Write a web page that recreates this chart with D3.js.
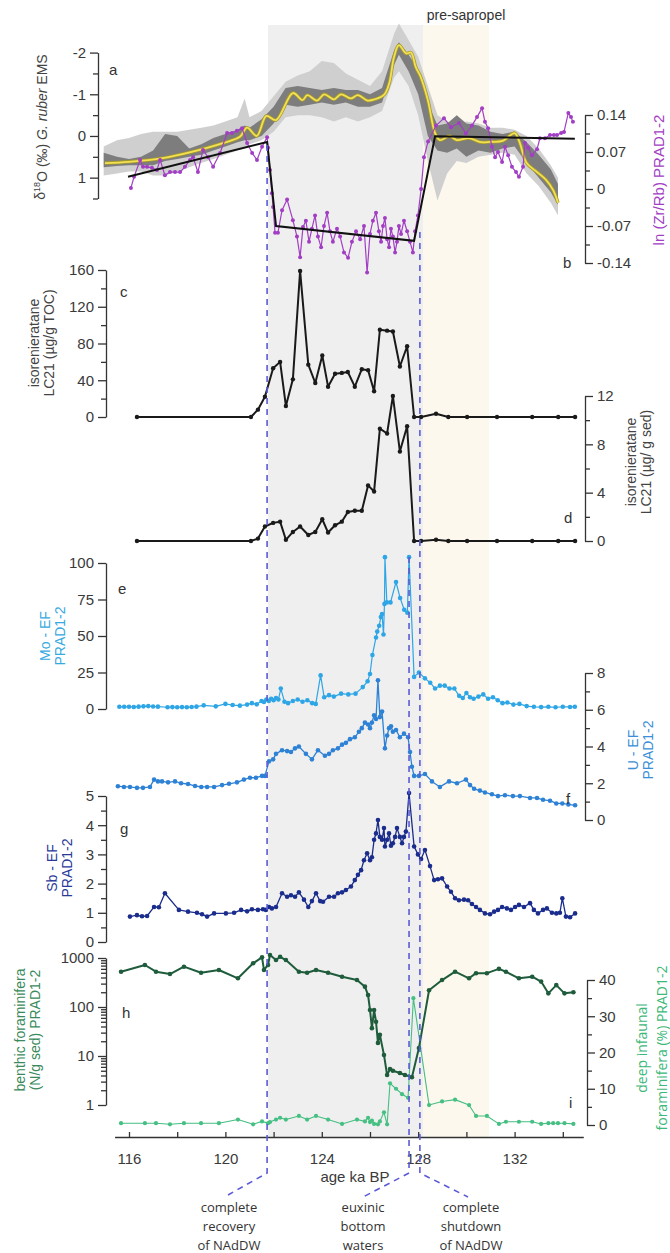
<!DOCTYPE html>
<html>
<head>
<meta charset="utf-8">
<script src="https://cdn.jsdelivr.net/npm/d3@7"></script>
<style>
  body { margin: 0; background: #fff; }
  svg { display: block; }
  .tk text { font-family: "Liberation Sans", Arial, sans-serif; font-size: 15px; fill: #3a3a3a; }
  .tk path, .tk line { stroke: #333; stroke-width: 1.3; }
</style>
</head>
<body>
<svg id="chart" width="670" height="1253"></svg>
<script>
// ---- data ----
var shadeGray = [121.77, 128.2];      // grey interval
var shadePre = [128.2, 130.94];       // pre-sapropel interval
var events = [121.73, 127.62, 128.07];

// a: d18O envelopes and smoothed curve
var envAge = [114.95,115.5,116,116.5,117,117.5,118,118.5,119,119.5,120,120.5,120.8,121,121.5,122,122.5,123,123.5,124,124.5,125,125.5,126,126.5,127,127.2,127.6,128,128.4,128.8,129.2,129.6,130,130.5,131,131.5,132,132.5,133,133.5,133.8];
var lightHi = [0.25,0.1,0.05,-0.05,-0.1,-0.1,-0.1,-0.15,-0.2,-0.25,-0.35,-0.45,-0.9,-0.45,-0.6,-0.95,-1.3,-1.45,-1.55,-1.8,-1.75,-1.5,-1.35,-1.2,-1.55,-2.45,-2.7,-2.3,-1.9,-1.2,-0.5,-0.35,-0.3,-0.35,-0.3,-0.2,-0.2,-0.15,0.0,0.3,0.7,1.0];
var lightLo = [0.95,0.9,0.85,0.85,0.95,0.95,0.85,0.75,0.65,0.55,0.45,0.35,0.3,0.2,0.1,-0.1,-0.45,-0.5,-0.5,-0.45,-0.35,-0.45,-0.35,-0.45,-0.6,-1.4,-1.55,-1.2,-0.5,0.6,1.55,0.9,0.6,0.65,0.5,0.45,0.4,0.45,0.9,1.2,1.6,1.9];
var darkHi = [0.4,0.5,0.55,0.5,0.35,-0.05,0.0,0.3,0.2,0.05,-0.05,-0.15,-0.25,-0.2,-0.4,-0.7,-1.15,-1.2,-1.15,-1.1,-1.15,-1.1,-1.1,-1.0,-1.15,-2.05,-2.25,-1.95,-1.6,-0.8,-0.25,-0.3,-0.5,-0.3,-0.25,-0.1,-0.05,-0.1,0.15,0.45,0.8,1.15];
var darkLo = [0.75,0.72,0.7,0.7,0.7,0.6,0.55,0.5,0.45,0.35,0.25,0.15,0.1,0.1,0.0,-0.3,-0.75,-0.7,-0.75,-0.8,-0.75,-0.8,-0.7,-0.7,-0.8,-1.7,-1.95,-1.55,-1.0,0.0,0.35,0.4,0.3,0.5,0.35,0.4,0.3,0.25,0.65,1.0,1.35,1.65];
var o18Age = [115.0,116.0,117.4,118.6,119.9,120.6,120.9,121.3,121.7,122.1,122.8,123.2,123.4,123.8,124.1,124.5,124.8,125.2,125.5,125.9,126.2,126.6,126.8,127.0,127.2,127.5,127.7,127.9,128.1,128.4,128.7,128.9,129.3,129.6,130.1,130.6,131.0,131.5,132.0,132.2,132.5,132.9,133.3,133.6,133.8];
var o18Val = [0.65,0.62,0.53,0.38,0.17,0.02,-0.2,0.0,-0.48,-0.38,-1.03,-0.86,-0.98,-0.85,-1.0,-0.88,-1.0,-0.9,-0.98,-0.85,-0.88,-1.0,-1.27,-1.9,-2.18,-1.98,-2.0,-1.65,-1.42,-0.86,-0.07,0.1,0.0,0.1,0.05,0.15,0.14,0.12,-0.07,0.14,0.65,0.85,1.05,1.3,1.6];

// b: ln(Zr/Rb) and fitted trend
var zrAge = [116.08,116.21,116.46,116.58,116.75,116.95,117.16,117.29,117.49,117.70,117.91,118.12,118.32,118.53,118.66,118.86,119.07,119.28,119.49,119.78,120.07,120.27,120.48,120.69,120.90,121.11,121.31,121.52,121.73,121.77,121.85,121.93,121.98,122.06,122.18,122.35,122.56,122.80,122.97,123.10,123.22,123.34,123.47,123.59,123.72,123.84,123.97,124.09,124.22,124.34,124.46,124.63,124.76,124.92,125.09,125.25,125.42,125.59,125.75,125.88,126.00,126.12,126.25,126.37,126.46,126.54,126.62,126.71,126.79,126.87,126.95,127.04,127.12,127.20,127.29,127.41,127.54,127.66,127.78,127.87,127.99,128.12,128.24,128.41,128.74,129.07,129.36,129.69,129.98,130.23,130.44,130.65,130.77,130.90,131.06,131.19,131.31,131.48,131.60,131.73,131.89,132.06,132.18,132.35,132.43,132.56,132.72,132.93,133.05,133.26,133.47,133.63,133.76,133.93,134.05,134.23,134.34,134.42];
var zrVal = [0.002,0.023,0.055,0.042,0.042,0.040,0.036,0.055,0.026,0.032,0.032,0.032,0.042,0.055,0.06,0.032,0.074,0.06,0.042,0.068,0.106,0.106,0.11,0.115,0.087,0.068,0.055,0.08,0.098,0.078,0.036,-0.008,-0.034,-0.083,-0.083,-0.04,-0.02,-0.059,-0.09,-0.129,-0.072,-0.06,-0.1,-0.075,-0.05,-0.09,-0.11,-0.07,-0.045,-0.08,-0.1,-0.075,-0.09,-0.12,-0.13,-0.1,-0.08,-0.095,-0.07,-0.158,-0.085,-0.06,-0.045,-0.08,-0.1,-0.07,-0.055,-0.095,-0.11,-0.075,-0.09,-0.12,-0.1,-0.07,-0.085,-0.06,-0.08,-0.1,-0.12,-0.08,-0.05,0.0,0.06,0.09,0.12,0.134,0.117,0.125,0.105,0.12,0.136,0.153,0.127,0.115,0.08,0.06,0.07,0.051,0.08,0.064,0.042,0.032,0.023,0.042,0.087,0.078,0.064,0.075,0.096,0.096,0.102,0.102,0.102,0.106,0.108,0.144,0.136,0.127];
var trendAge = [115.96,121.73,122.1,127.83,128.7,134.5];
var trendVal = [0.023,0.089,-0.07,-0.098,0.1,0.095];

// c, d: isorenieratane
var isoAge = [116.33,121.06,121.35,121.64,121.98,122.27,122.51,122.8,123.1,123.44,123.73,124.02,124.26,124.55,124.83,125.08,125.37,125.66,125.92,126.17,126.41,126.71,126.95,127.24,127.54,127.83,128.12,128.74,129.25,130.03,131.27,132.73,133.81,134.51];
var isoToc = [0,0,8,22,53,60,12,41,159,57,37,67,33,47,48,49,33,52,51,28,95,94,93,55,77,0,0,3.5,0,0,0,0,0,0];
var isoSed = [0,0,0.2,1.2,1.5,1.6,0.1,0.75,1.2,0.5,0.75,1.8,0.7,1.3,1.6,2.4,2.5,2.5,4.6,4.1,9.3,8.9,12.0,7.4,9.5,0,0,0.1,0,0,0,0,0,0];

// e: Mo-EF
var moAge = [115.6,115.8,116.0,116.2,116.4,116.6,116.8,117.0,117.2,117.6,117.8,118.0,118.2,118.4,118.6,118.8,119.1,119.6,120.0,120.3,120.6,120.9,121.1,121.3,121.5,121.6,121.7,121.8,121.9,122.0,122.1,122.2,122.3,122.45,122.6,122.8,123.0,123.2,123.4,123.6,123.75,123.95,124.1,124.3,124.5,124.8,125.1,125.4,125.7,125.9,126.0,126.1,126.25,126.3,126.38,126.45,126.5,126.56,126.6,126.62,126.7,126.85,127.08,127.25,127.42,127.55,127.62,127.83,128.03,128.28,128.5,128.7,128.9,129.1,129.3,129.5,129.7,129.85,130.0,130.15,130.3,130.5,130.7,130.9,131.1,131.3,131.5,131.7,131.95,132.2,132.5,132.8,133.1,133.4,133.7,134.0,134.3,134.5];
var moVal = [1.5,1.5,1.5,1.4,1.6,1.8,2.0,1.7,1.6,1.2,1.3,1.2,1.3,1.2,1.4,1.6,2.5,1.8,3.5,2.7,2.3,3.0,4.0,3.2,5.5,4.8,6.5,5.5,7.0,6.0,7.5,6.5,14,5.0,4.0,5.5,6.5,5.0,6.0,4.0,3.5,23,8,9.5,8.5,10.5,10.0,10.5,15,19,24,37,49,53,57,63,65,51,72,104,73,73,87,76,68,66,104,22,25,21,18,14,16,16,14,14,9,7.5,11,8,7,8.5,10,7,8,6,4,4.5,3,3.5,2,1.5,1.3,1.5,1.2,1.5,1.4,1.5];

// f: U-EF
var uAge = [115.54,115.79,116.04,116.33,116.58,116.87,117.04,117.2,117.37,117.62,117.91,118.16,118.45,118.74,119.0,119.24,119.53,119.86,120.15,120.48,120.77,121.02,121.27,121.52,121.64,121.81,121.98,122.1,122.35,122.56,122.72,122.89,123.05,123.34,123.59,123.84,124.13,124.3,124.46,124.67,124.84,125.0,125.17,125.37,125.54,125.66,125.79,125.92,126.0,126.08,126.17,126.25,126.33,126.41,126.5,126.62,126.71,126.79,126.87,126.95,127.08,127.24,127.41,127.58,127.66,127.74,127.83,128.03,128.28,128.57,128.9,129.28,129.61,129.98,130.15,130.32,130.56,130.77,131.06,131.31,131.6,131.93,132.22,132.64,132.93,133.18,133.47,133.73,133.98,134.23,134.51];
var uVal = [1.84,1.8,1.8,1.75,1.75,1.8,2.2,2.1,2.1,2.05,2.1,2.0,1.96,1.85,1.8,1.8,1.8,1.9,1.97,2.05,2.2,2.3,2.3,2.4,2.4,3.2,3.3,3.6,3.8,3.75,3.7,3.9,4.0,3.6,3.3,3.8,3.5,3.6,3.8,3.9,4.1,4.2,4.4,4.5,4.8,5.0,5.3,5.2,5.0,5.3,5.7,5.5,7.6,5.6,5.9,3.9,4.6,5.0,5.1,4.8,4.9,4.5,4.7,4.5,3.7,2.9,2.4,2.4,2.5,2.1,1.8,2.1,2.0,2.2,1.9,1.7,1.6,1.5,1.4,1.3,1.35,1.3,1.3,1.2,1.2,1.1,1.05,0.9,0.9,0.85,0.8];

// g: Sb-EF
var sbAge = [116.04,116.33,116.54,116.75,117.04,117.24,117.49,118.07,118.45,118.82,119.03,119.24,119.53,120.02,120.36,120.65,120.9,121.1,121.35,121.56,121.68,121.81,121.93,122.1,122.35,122.56,122.72,122.89,123.05,123.26,123.44,123.59,123.76,123.93,124.05,124.3,124.51,124.67,124.84,125.0,125.21,125.37,125.5,125.63,125.75,125.88,126.0,126.08,126.17,126.25,126.33,126.41,126.5,126.58,126.62,126.71,126.79,126.87,126.95,127.04,127.12,127.24,127.33,127.41,127.49,127.62,127.83,127.99,128.12,128.28,128.49,128.66,128.82,128.99,129.2,129.36,129.53,129.69,129.9,130.07,130.23,130.4,130.56,130.77,130.98,131.15,131.31,131.48,131.68,131.85,132.02,132.18,132.39,132.64,132.8,132.97,133.18,133.34,133.55,133.73,133.88,133.98,134.13,134.3,134.51];
var sbVal = [0.87,0.92,0.88,0.89,1.2,1.19,1.67,1.1,1.04,1.0,0.95,0.87,0.98,0.98,1.0,1.1,1.05,1.12,1.1,1.12,1.1,1.2,1.15,1.2,1.67,1.55,1.6,1.55,1.7,1.45,1.2,1.4,1.67,1.4,1.38,1.55,1.55,1.67,1.7,1.78,1.9,2.12,2.3,2.46,2.8,3.04,2.8,2.9,3.5,3.72,4.18,3.6,3.5,3.9,3.27,3.5,3.72,3.3,3.38,3.6,3.9,3.6,3.38,3.6,3.78,5.1,3.27,3.0,2.84,3.15,2.6,2.12,2.15,2.18,1.9,1.72,1.5,1.43,1.45,1.43,1.3,1.2,1.1,0.98,0.95,1.04,1.1,1.2,1.15,1.1,1.2,1.27,1.2,1.33,1.1,0.98,1.1,1.15,1.0,0.98,1.0,1.5,0.87,0.85,0.98];

// h, i: benthic foraminifera
var forAge = [115.67,116.66,117.12,117.7,118.28,118.99,119.73,120.52,121.15,121.52,121.6,121.77,121.85,122.1,122.27,122.51,123.05,123.39,123.76,124.26,124.84,125.46,125.79,125.92,126.0,126.08,126.17,126.25,126.33,126.41,126.58,126.71,126.83,126.95,127.24,127.45,127.74,128.03,128.45,128.99,129.53,130.11,130.4,130.85,131.35,131.64,132.18,132.73,133.1,133.4,133.73,134.07,134.44];
var benthic = [525,720,525,470,665,500,570,385,780,1030,570,720,1150,910,1060,910,525,500,570,500,415,355,260,175,87,37,87,50,18.5,27,10.5,4.1,5.4,5.0,4.5,4.1,3.7,14.5,220,355,525,385,490,490,600,525,385,415,330,190,280,190,200];
var infAge = [115.67,116.66,117.12,117.7,118.28,118.99,119.73,120.52,121.15,121.52,121.77,121.85,122.1,122.27,122.51,123.05,123.39,123.76,124.26,124.84,125.46,125.79,125.92,126.0,126.08,126.17,126.33,126.41,126.58,126.71,126.83,127.08,127.33,127.58,127.8,128.45,128.99,129.53,130.11,130.4,130.85,131.35,131.64,132.18,132.73,133.1,133.4,133.6,133.8,134.07,134.44];
var infaunal = [0.5,0.5,0.5,0.2,0.5,0.5,0.5,1.5,0.2,1,0.5,0.8,1.5,2,1.5,2.5,1.5,2.5,1.5,0.3,1.5,1.0,2.0,0.8,1.2,0.3,0.2,1.0,3.5,0.2,11.5,10,8.5,7.5,35,5.5,6.5,7,5.5,2.5,2.5,0.3,0.9,0.9,0.9,0.3,0.5,0.5,0.5,0.5,0.3];

var xTicks = [116,118,120,122,124,126,128,130,132,134];
var xLabels = [116,120,124,128,132];

// ---- scales ----
var svg = d3.select('#chart');
var x = d3.scaleLinear().domain([116, 132]).range([129, 514.6]);

var yA = d3.scaleLinear().domain([-2, 1.5]).range([52.6, 198.5]),
    yB = d3.scaleLinear().domain([-0.14, 0.14]).range([263, 115]),
    yC = d3.scaleLinear().domain([0, 160]).range([417, 270]),
    yD = d3.scaleLinear().domain([0, 12]).range([541, 396]),
    yE = d3.scaleLinear().domain([0, 100]).range([709, 563]),
    yF = d3.scaleLinear().domain([0, 8]).range([820, 673]),
    yG = d3.scaleLinear().domain([0, 5]).range([942, 796]),
    yH = d3.scaleLog().domain([1, 1000]).range([1105, 958]),
    yI = d3.scaleLinear().domain([0, 40]).range([1125, 980]);

var axisY = 1137;

// background intervals
svg.append('rect')
   .attr('x', x(shadeGray[0])).attr('width', x(shadeGray[1]) - x(shadeGray[0]))
   .attr('y', 25).attr('height', axisY - 25)
   .attr('fill', '#efefef');
svg.append('rect')
   .attr('x', x(shadePre[0])).attr('width', x(shadePre[1]) - x(shadePre[0]))
   .attr('y', 25).attr('height', axisY - 25)
   .attr('fill', '#fdf8ee');

var pairs = function(a, v){ return a.map(function(d, i){ return [d, v[i]]; }); };

// envelopes
var env = envAge.map(function(d, i){ return {a: d, lh: lightHi[i], ll: lightLo[i], dh: darkHi[i], dl: darkLo[i]}; });
svg.append('path').datum(env)
   .attr('d', d3.area().x(function(d){ return x(d.a); }).y0(function(d){ return yA(d.ll); }).y1(function(d){ return yA(d.lh); }))
   .attr('fill', '#cfcfcf');
svg.append('path').datum(env)
   .attr('d', d3.area().x(function(d){ return x(d.a); }).y0(function(d){ return yA(d.dl); }).y1(function(d){ return yA(d.dh); }))
   .attr('fill', '#7d7d7d');

var o18Line = d3.line().x(function(d){ return x(d[0]); }).y(function(d){ return yA(d[1]); }).curve(d3.curveCatmullRom);
svg.append('path').datum(pairs(o18Age, o18Val)).attr('d', o18Line)
   .attr('fill', 'none').attr('stroke', '#a89b2a').attr('stroke-width', 3.4);
svg.append('path').datum(pairs(o18Age, o18Val)).attr('d', o18Line)
   .attr('fill', 'none').attr('stroke', '#f2e155').attr('stroke-width', 1.8);

// generic dotted series
function series(ages, vals, y, color, lw, r) {
    var pts = pairs(ages, vals);
    var g = svg.append('g');
    g.append('path').datum(pts)
     .attr('d', d3.line().x(function(d){ return x(d[0]); }).y(function(d){ return y(d[1]); }))
     .attr('fill', 'none').attr('stroke', color).attr('stroke-width', lw).attr('stroke-linejoin', 'round');
    g.selectAll('circle').data(pts).enter().append('circle')
     .attr('cx', function(d){ return x(d[0]); })
     .attr('cy', function(d){ return y(d[1]); })
     .attr('r', r).attr('fill', color);
}

series(zrAge, zrVal, yB, '#a23ec4', 1.2, 2);
svg.append('path').datum(pairs(trendAge, trendVal))
   .attr('d', d3.line().x(function(d){ return x(d[0]); }).y(function(d){ return yB(d[1]); }))
   .attr('fill', 'none').attr('stroke', '#111').attr('stroke-width', 2);

series(isoAge, isoToc, yC, '#1a1a1a', 2, 2.2);
series(isoAge, isoSed, yD, '#1a1a1a', 2, 2.2);
series(moAge, moVal, yE, '#2ea6e6', 1.2, 2.3);
series(uAge, uVal, yF, '#2e82d6', 1.3, 2.3);
series(sbAge, sbVal, yG, '#1b2d8c', 1.3, 2.3);
series(infAge, infaunal, yI, '#45bf82', 1.1, 2.1);
series(forAge, benthic, yH, '#1e5c3c', 2, 2.3);

// axes
function vAxis(scale, xpos, side, major, minor, fmt) {
    var all = major.concat(minor);
    var ax = (side === 'left' ? d3.axisLeft(scale) : d3.axisRight(scale))
        .tickValues(all).tickSizeOuter(0).tickSizeInner(8).tickPadding(4)
        .tickFormat(function(d){ return major.indexOf(d) >= 0 ? fmt(d) : ''; });
    var g = svg.append('g').attr('class', 'tk').attr('transform', 'translate(' + xpos + ',0)').call(ax);
    g.selectAll('.tick').filter(function(d){ return major.indexOf(d) < 0; })
     .select('line').attr('x2', side === 'left' ? -5 : 5);
    return g;
}
var plain = function(d){ return String(d); };

vAxis(yA, 98, 'left', [-2,-1,0,1], [-1.5,-0.5,0.5,1.5], plain);
vAxis(yB, 585, 'right', [-0.14,-0.07,0,0.07,0.14], [-0.105,-0.035,0.035,0.105], plain);
vAxis(yC, 106, 'left', [0,40,80,120,160], [20,60,100,140], plain);
vAxis(yD, 585, 'right', [0,4,8,12], [2,6,10], plain);
vAxis(yE, 106, 'left', [0,25,50,75,100], [], plain);
vAxis(yF, 585, 'right', [0,2,4,6,8], [1,3,5,7], plain);
vAxis(yG, 106, 'left', [0,1,2,3,4,5], [0.5,1.5,2.5,3.5,4.5], plain);
var logMinor = [];
[1,10,100].forEach(function(p){ for (var k = 2; k < 10; k++) logMinor.push(k * p); });
vAxis(yH, 106, 'left', [1,10,100,1000], logMinor, plain);
vAxis(yI, 587, 'right', [0,10,20,30,40], [5,15,25,35], plain);

var xg = svg.append('g').attr('class', 'tk').attr('transform', 'translate(0,' + axisY + ')')
   .call(d3.axisBottom(x.copy().domain([115.4, 134.85]).range([x(115.4), x(134.85)]))
   .tickValues(xTicks).tickSizeOuter(0).tickSizeInner(-5).tickPadding(16)
   .tickFormat(function(d){ return xLabels.indexOf(d) >= 0 ? d : ''; }));

// event lines
var evTop = [145, 557, 232];
var evEnd = [[228, 1195], [363, 1197], [468, 1197]];
events.forEach(function(e, i){
    svg.append('path')
       .attr('d', d3.line()([[x(e), evTop[i]], [x(e), 1173], evEnd[i]]))
       .attr('fill', 'none').attr('stroke', '#5b5bd6').attr('stroke-width', 1.6)
       .attr('stroke-dasharray', '6,5');
});

// texts
function txt(s, tx, ty, opts) {
    opts = opts || {};
    return svg.append('text').attr('x', tx).attr('y', ty)
        .attr('font-family', opts.family || '"Liberation Sans", Arial, sans-serif')
        .attr('font-size', opts.size || 15)
        .attr('fill', opts.color || '#333')
        .attr('text-anchor', opts.anchor || 'start')
        .text(s);
}
function rotLabel(lines, cx, cy, color, size, gap, family) {
    lines.forEach(function(l, i){
        svg.append('text')
           .attr('transform', 'translate(' + (cx + i * gap) + ',' + cy + ') rotate(-90)')
           .attr('text-anchor', 'middle').attr('dy', '0.35em')
           .attr('font-family', family || '"Liberation Sans", Arial, sans-serif')
           .attr('font-size', size).attr('fill', color).text(l);
    });
}

// panel a label with superscript and italics
var la = svg.append('text')
   .attr('transform', 'translate(40,127) rotate(-90)')
   .attr('text-anchor', 'middle').attr('dy', '0.35em')
   .attr('font-family', '"Liberation Sans", Arial, sans-serif')
   .attr('font-size', 14).attr('fill', '#444');
la.append('tspan').text('δ');
la.append('tspan').attr('font-size', 9).attr('dy', '-0.5em').text('18');
la.append('tspan').attr('dy', '0.5em').text('O (‰) ');
la.append('tspan').attr('font-style', 'italic').text('G. ruber');
la.append('tspan').text(' EMS');

rotLabel(['ln (Zr/Rb) PRAD1-2'], 659, 180, '#a23ec4', 15, 0);
rotLabel(['isorenieratane', 'LC21 (µg/g TOC)'], 34, 343, '#444', 14, 15);
rotLabel(['isorenieratane', 'LC21 (µg/ g sed)'], 631, 462, '#444', 14, 15);
rotLabel(['Mo - EF', 'PRAD1-2'], 45, 636, '#37a9e1', 14, 15);
rotLabel(['U - EF', 'PRAD1-2'], 633, 750, '#3a8fd8', 14, 15);
rotLabel(['Sb - EF', 'PRAD1-2'], 52, 868, '#2a3a9a', 14, 15);
rotLabel(['benthic foraminifera', '(N/g sed) PRAD1-2'], 20, 1030, '#3a8a5c', 14, 15);
rotLabel(['deep infaunal', 'foraminifera (%) PRAD1-2'], 642, 1048, '#3cb878', 14, 20, '"Open Sans", sans-serif');

// panel letters
[['a', 109, 75], ['b', 563, 268], ['c', 120, 297], ['d', 564, 523], ['e', 118, 594],
 ['f', 566, 804], ['g', 120, 834], ['h', 122, 1018], ['i', 569, 1108]].forEach(function(p){
    txt(p[0], p[1], p[2], {size: 15, color: '#333'});
});

txt('pre-sapropel', 466, 20, {size: 14, anchor: 'middle'});
txt('age ka BP', 355, 1182, {size: 15, anchor: 'middle', color: '#3a3a3a'});

var notes = [
    {x: 229, lines: ['complete', 'recovery', 'of NAdDW']},
    {x: 363, lines: ['euxinic', 'bottom', 'waters']},
    {x: 471, lines: ['complete', 'shutdown', 'of NAdDW']}
];
notes.forEach(function(n){
    n.lines.forEach(function(l, i){
        txt(l, n.x, 1212 + i * 19, {size: 13, anchor: 'middle', color: '#333', family: '"Open Sans", sans-serif'});
    });
});
</script>
</body>
</html>
